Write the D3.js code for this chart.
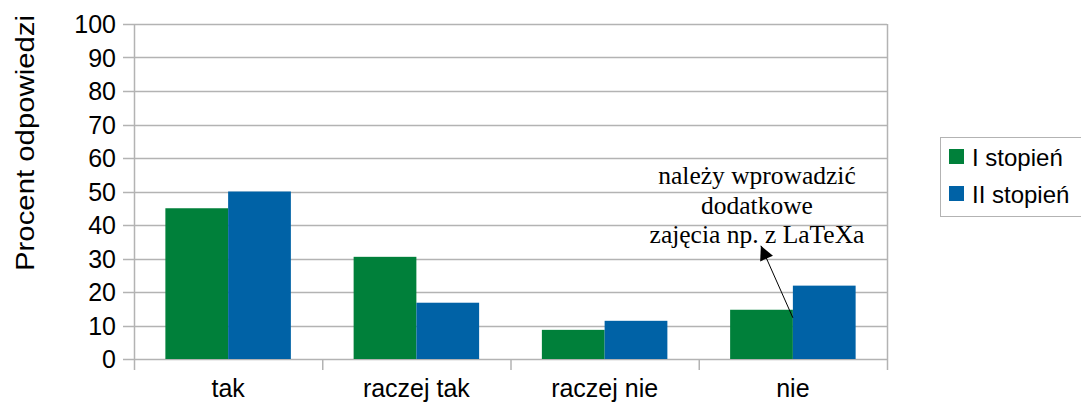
<!DOCTYPE html>
<html>
<head>
<meta charset="utf-8">
<script src="https://cdn.jsdelivr.net/npm/d3@7"></script>
<style>
  body { margin: 0; background: #fff; }
  text { font-family: "Liberation Sans", Arial, sans-serif; fill: #000; }
  .note { font-family: "Liberation Serif", "Times New Roman", serif; }
</style>
</head>
<body>
<svg id="chart" width="1081" height="403"></svg>
<script>
const categories = ["tak", "raczej tak", "raczej nie", "nie"];
const seriesNames = ["I stopień", "II stopień"];
const seriesColors = ["#00803a", "#0062a6"];
const firstDegree = [45, 30.5, 8.7, 14.7];
const secondDegree = [50, 16.8, 11.4, 21.9];
const yTicks = [0, 10, 20, 30, 40, 50, 60, 70, 80, 90, 100];
const noteLines = ["należy wprowadzić", "dodatkowe", "zajęcia np. z LaTeXa"];

const margin = { left: 134, top: 24, right: 194, bottom: 44 };
const width = 1081, height = 403;

const svg = d3.select("#chart");

const x = d3.scaleBand()
  .domain(categories)
  .range([margin.left, width - margin.right]);

const xInner = d3.scaleBand()
  .domain(seriesNames)
  .range([0, x.bandwidth()])
  .paddingOuter(0.5);

const y = d3.scaleLinear()
  .domain([0, 100])
  .range([height - margin.bottom, margin.top]);

// grid lines
svg.append("g")
  .selectAll("line")
  .data(yTicks)
  .join("line")
  .attr("x1", margin.left - 11)
  .attr("x2", width - margin.right)
  .attr("y1", d => Math.round(y(d)) + 0.5)
  .attr("y2", d => Math.round(y(d)) + 0.5)
  .attr("stroke", "#b3b3b3")
  .attr("stroke-width", 1.5);

// y labels
svg.append("g")
  .selectAll("text")
  .data(yTicks)
  .join("text")
  .attr("x", margin.left - 18)
  .attr("y", d => y(d))
  .attr("dy", "0.36em")
  .attr("text-anchor", "end")
  .attr("font-size", 25)
  .text(d => d);

// bars
const rows = categories.map((c, i) => ({ cat: c, values: [firstDegree[i], secondDegree[i]] }));

svg.append("g")
  .selectAll("g")
  .data(rows)
  .join("g")
  .attr("transform", d => `translate(${x(d.cat)},0)`)
  .selectAll("rect")
  .data(d => d.values.map((v, j) => ({ name: seriesNames[j], value: v, color: seriesColors[j] })))
  .join("rect")
  .attr("x", d => xInner(d.name))
  .attr("width", xInner.bandwidth())
  .attr("y", d => y(d.value))
  .attr("height", d => y(0) - y(d.value))
  .attr("fill", d => d.color);

// axes frame
const axisColor = "#b3b3b3";
svg.append("line")
  .attr("x1", margin.left + 0.5).attr("x2", margin.left + 0.5)
  .attr("y1", y(100)).attr("y2", y(0) + 11)
  .attr("stroke", axisColor).attr("stroke-width", 1.5);
svg.append("line")
  .attr("x1", width - margin.right + 0.5).attr("x2", width - margin.right + 0.5)
  .attr("y1", y(100)).attr("y2", y(0) + 11)
  .attr("stroke", axisColor).attr("stroke-width", 1.5);
svg.append("g")
  .selectAll("line")
  .data(categories.slice(1))
  .join("line")
  .attr("x1", d => x(d) + 0.5).attr("x2", d => x(d) + 0.5)
  .attr("y1", y(0)).attr("y2", y(0) + 11)
  .attr("stroke", axisColor).attr("stroke-width", 1.5);

// x labels
svg.append("g")
  .selectAll("text")
  .data(categories)
  .join("text")
  .attr("x", d => x(d) + x.bandwidth() / 2)
  .attr("y", 397)
  .attr("text-anchor", "middle")
  .attr("font-size", 25)
  .text(d => d);

// y title
svg.append("text")
  .attr("transform", "translate(34,143) rotate(-90)")
  .attr("text-anchor", "middle")
  .attr("font-size", 26)
  .attr("textLength", 256)
  .attr("lengthAdjust", "spacingAndGlyphs")
  .text("Procent odpowiedzi");

// annotation
const noteX = x("nie") + x.bandwidth() / 2;
const noteY = y(12.3);
const tipX = noteX - 32, tipY = y(33.8);

svg.append("defs").append("marker")
  .attr("id", "arrow")
  .attr("viewBox", "0 0 10 10")
  .attr("refX", 10).attr("refY", 5)
  .attr("markerWidth", 17).attr("markerHeight", 14)
  .attr("markerUnits", "userSpaceOnUse")
  .attr("orient", "auto")
  .append("path")
  .attr("d", "M0,0 L10,5 L0,10 z")
  .attr("fill", "#000");

svg.append("line")
  .attr("x1", noteX).attr("y1", noteY)
  .attr("x2", tipX).attr("y2", tipY)
  .attr("stroke", "#000")
  .attr("stroke-width", 1)
  .attr("marker-end", "url(#arrow)");

svg.append("g")
  .selectAll("text")
  .data(noteLines)
  .join("text")
  .attr("class", "note")
  .attr("x", 757)
  .attr("y", (d, i) => 184 + i * 29.5)
  .attr("text-anchor", "middle")
  .attr("font-size", 25.5)
  .text(d => d);

// legend
const legend = svg.append("g").attr("transform", "translate(940,137)");
legend.append("rect")
  .attr("x", 0.5).attr("y", 0.5)
  .attr("width", 150).attr("height", 79)
  .attr("fill", "none")
  .attr("stroke", "#b3b3b3");
seriesNames.forEach((name, i) => {
  legend.append("rect")
    .attr("x", 9).attr("y", 12 + i * 37)
    .attr("width", 15).attr("height", 15)
    .attr("fill", seriesColors[i]);
  legend.append("text")
    .attr("x", 32).attr("y", 20 + i * 37)
    .attr("dy", "0.36em")
    .attr("font-size", 24)
    .text(name);
});
</script>
</body>
</html>
